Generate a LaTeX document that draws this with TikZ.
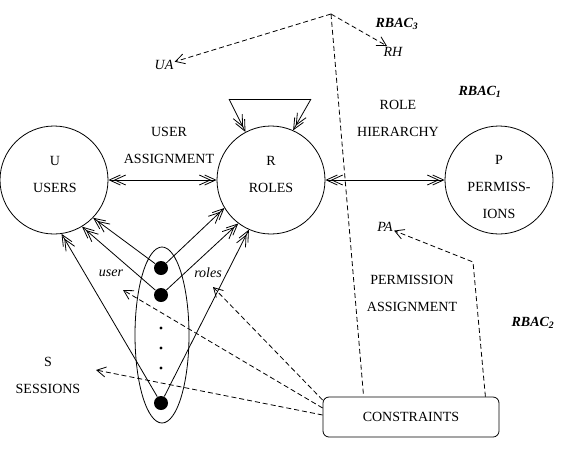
\documentclass[tikz,border=0pt]{standalone}
\usepackage{fontspec}
\setmainfont{Liberation Serif}
\usetikzlibrary{arrows.meta}

\begin{document}
\begin{tikzpicture}[
    x=1pt, y=-1pt,
    line join=round,
    line width=0.8pt,
    font=\fontsize{14}{27}\selectfont,
    tip/.style={Straight Barb[length=11pt,width=10pt]},
    sole/.style={-{Straight Barb[length=11pt,width=10pt,sep=-7pt]Straight Barb[length=11pt,width=10pt]}},
    both/.style={{Straight Barb[length=11pt,width=10pt]Straight Barb[length=11pt,width=10pt,sep=-7pt]}-{Straight Barb[length=11pt,width=10pt,sep=-7pt]Straight Barb[length=11pt,width=10pt]}},
    hint/.style={dash pattern=on 5pt off 3pt, -{Straight Barb[length=9pt,width=10pt]}},
    trace/.style={dash pattern=on 5pt off 3pt},
    entity/.style={circle, draw, minimum size=108pt, inner sep=0pt},
    lbl/.style={align=center, inner sep=0pt},
    varname/.style={font=\fontsize{14}{16}\selectfont\itshape, inner sep=1pt},
    level/.style={font=\fontsize{14}{16}\selectfont\bfseries\itshape, inner sep=0pt},
    sdot/.style={circle, fill, inner sep=0pt, minimum size=14pt}
]
  \useasboundingbox (0,0) rectangle (561,464);

  % ==================== PARAMETERS ====================
  \def\yE{180}     % centre line of the three sets
  \def\xS{161}     % column of the session points

  % ==================== 1. SETS U, R, P ====================
  \node[entity] (U) at (54,\yE) {};
  \node[entity] (R) at (271,\yE) {};
  \node[entity] (P) at (499,\yE) {};

  \node[lbl] at (55,174) {U\\USERS};
  \node[lbl] at (271,174.5) {R\\ROLES};
  \node[lbl] at (499,186.5) {P\\PERMISS-\\IONS};

  % Assignments
  \draw[both] (U) -- (R);
  \draw[both] (R) -- (P);
  \node[lbl] at (169,145.5) {USER\\ASSIGNMENT};
  \node[lbl] at (398,118.5) {ROLE\\HIERARCHY};
  \node[lbl] at (412,293.5) {PERMISSION\\ASSIGNMENT};

  % ==================== 2. ROLE HIERARCHY LOOP ====================
  \coordinate (hl) at (229,99);
  \coordinate (hr) at (311,99);
  \draw (hl) -- (hr);
  \draw[sole] (hl) -- (R.118);
  \draw[sole] (hr) -- (R.66);

  % ==================== 3. SESSIONS ====================
  \draw (162,335) ellipse (27pt and 88pt);
  \node[sdot] (s1) at (\xS,268) {};
  \node[sdot] (s2) at (\xS,295) {};
  \node[sdot] (s3) at (\xS,403) {};
  \foreach \y in {328,348,368}{
      \fill (\xS,\y) circle (1.6pt);
  }

  \draw[sole] (s1) -- (U.-44);
  \draw[sole] (s2) -- (U.-59);
  \draw[sole] (s3) -- (U.-82);
  \draw[sole] (s1) -- (R.211);
  \draw[sole] (s2) -- (R.233);
  \draw[sole] (s3) -- (R.246);

  \node[varname] (user) at (111,273) {user};
  \node[varname] (roles) at (208,273) {roles};
  \node[lbl] (S) at (48,375) {S\\SESSIONS};

  % ==================== 4. CONSTRAINTS ====================
  \node[draw, rounded corners=6pt, minimum width=176pt, minimum height=40pt] (con) at (411,417) {CONSTRAINTS};

  \coordinate (apex) at (331,14);
  \node[varname] (UA) at (164,65) {UA};
  \node[varname] (RH) at (393,52) {RH};
  \node[varname] (PA) at (385,227) {PA};

  \draw[trace] (apex) -- ([xshift=41pt]con.north west);
  \draw[hint] (apex) -- (UA);
  \draw[hint] (apex) -- ([xshift=-6pt]RH.north);
  \draw[hint] ([xshift=-14pt]con.north east) -- (473,262) -- (PA);

  \coordinate (userTip) at (123,290);
  \coordinate (rolesTip) at (213,287);
  \coordinate (sessTip) at (96,370);
  \draw[hint] ([yshift=17pt]con.west) -- (rolesTip);
  \draw[hint] ([yshift=9pt]con.west) -- (userTip);
  \draw[hint] ([yshift=2pt]con.west) -- (sessTip);

  % ==================== 5. MODEL LEVELS ====================
  \node[level] at (397,24) {RBAC\textsubscript{3}};
  \node[level] at (480,92) {RBAC\textsubscript{1}};
  \node[level] at (533,323) {RBAC\textsubscript{2}};

\end{tikzpicture}
\end{document}
